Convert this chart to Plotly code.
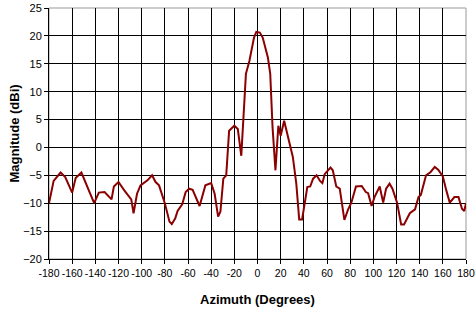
import plotly.graph_objects as go

azimuth = [-180, -176, -170, -166, -160, -157, -152, -147, -145, -141, -137, -132, -128, -126,
           -124, -120, -115, -111, -109, -107, -104, -101, -95, -91, -88, -85, -80, -76, -74,
           -71, -69, -65, -62, -59, -56, -50, -45, -40, -37, -34, -32, -29.5, -27, -24.5,
           -20, -17, -14, -10, -7, -3, -1, 2, 4.5, 9, 11, 13, 15.5, 18, 20, 23, 27.5, 30.5,
           33.5, 36, 38.5, 43, 45.5, 48, 51, 54, 56, 58, 63, 65, 68, 71, 75, 78, 81, 85, 90,
           93.5, 95.5, 98.5, 101, 105.5, 108.5, 111, 114, 116.5, 120.5, 124, 126.5, 131.5,
           136, 139, 141, 145.5, 149.5, 153, 156, 160, 163, 166, 170, 173.5, 176.5, 178.5, 180]
magnitude = [-10, -6, -4.5, -5.3, -8.1, -5.5, -4.5, -6.8, -8, -10, -8.1, -8, -8.9, -9.3,
             -7, -6.2, -7.7, -8.9, -9.3, -11.8, -8.3, -6.8, -5.9, -5, -6.2, -6.8, -10, -13.3, -13.75,
             -12.7, -11.4, -10.2, -8, -7.4, -7.6, -10.5, -6.8, -6.4, -8.3, -12.4, -11.5, -5.6, -5, 3,
             3.9, 3.3, -1.5, 13.2, 15.5, 19.7, 20.7, 20.6, 19.7, 16.1, 13.2, 3.6, -4.1, 3.9, 2.1, 4.8, 1, -1.7,
             -6.5, -12.9, -12.9, -7.1, -7, -5.6, -5, -6, -6.4, -4.8, -3.6, -4.1, -7, -7.4, -13, -11.25, -9.9, -7, -6.9,
             -8, -8.2, -10.5, -8.9, -7, -9.9, -7.4, -6.5, -7.4, -9.9, -13.8, -13.8, -11.8,
             -11.1, -8.9, -8.5, -5, -4.4, -3.5, -4, -5.2, -7.7, -9.9, -8.9, -8.9, -11, -11.4, -10]

x_ticks = list(range(-180, 181, 20))
y_ticks = list(range(-20, 26, 5))

fig = go.Figure()
fig.add_trace(go.Scatter(x=azimuth, y=magnitude, mode="lines",
                         line=dict(color="#8B0000", width=2), showlegend=False))

font = "Liberation Sans, Arial, sans-serif"
fig.update_layout(
    width=476, height=311,
    margin=dict(l=49, r=10, t=8, b=52),
    paper_bgcolor="white", plot_bgcolor="white",
    font=dict(family=font, size=11, color="black"),
)
fig.update_xaxes(
    range=[-180, 180], tickvals=x_ticks, ticktext=[str(v) for v in x_ticks],
    tickangle=0, automargin=False,
    showgrid=True, gridcolor="black", gridwidth=1,
    showline=True, linecolor="black", linewidth=1, mirror=False,
    ticks="outside", ticklen=4, tickcolor="black", zeroline=False,
    tickfont=dict(size=10.5),
    title=dict(text="<b>Azimuth (Degrees)</b>", font=dict(size=13), standoff=17),
)
fig.update_yaxes(
    range=[-20, 25], tickvals=y_ticks, automargin=False,
    showgrid=True, gridcolor="black", gridwidth=1,
    showline=True, linecolor="black", linewidth=1,
    ticks="outside", ticklen=4, tickcolor="black", zeroline=False,
    tickfont=dict(size=11),
    title=dict(text="<b>Magnitude (dBi)</b>", font=dict(size=13), standoff=0),
)
fig.add_shape(type="rect", xref="paper", yref="paper", x0=0, y0=0, x1=1, y1=1,
              line=dict(color="#999999", width=1), layer="below")
fig.write_html("out.html", config={"displayModeBar": False},
               post_script="document.body.style.margin='0';document.body.style.overflow='hidden';")
